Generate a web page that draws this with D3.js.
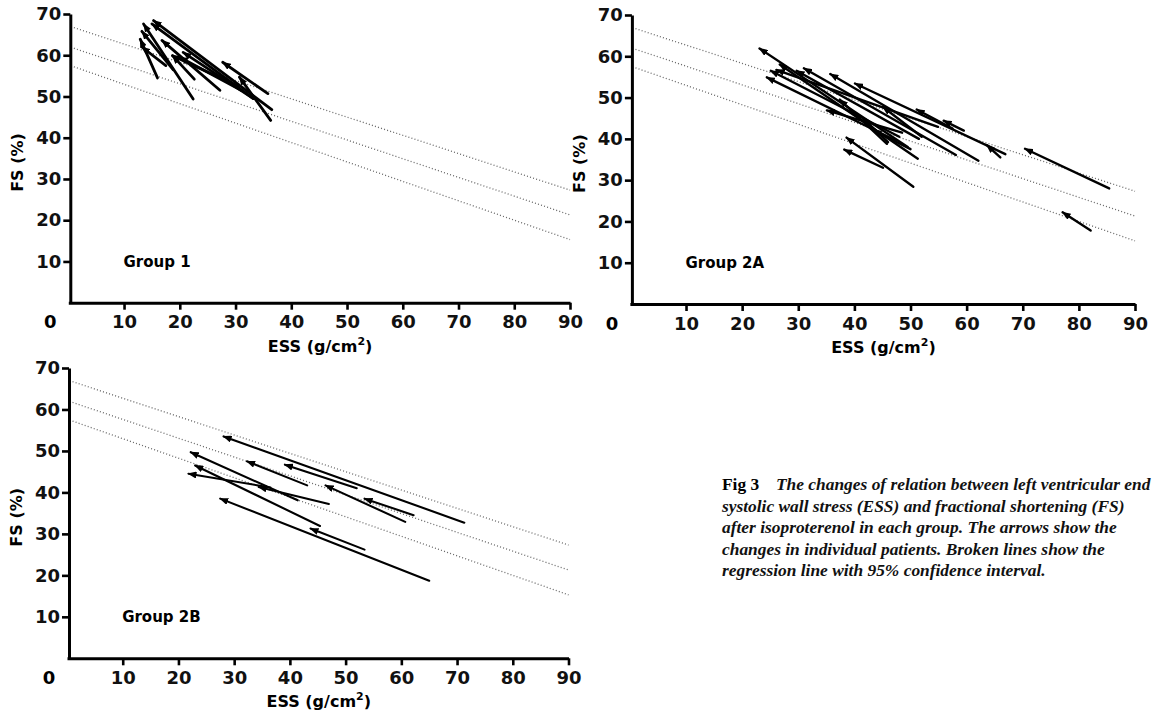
<!DOCTYPE html>
<html>
<head>
<meta charset="utf-8">
<script src="https://cdn.jsdelivr.net/npm/d3@7"></script>
<style>
  body { margin: 0; background: #fff; }
  svg { display: block; }
  .tick text { font-family: "DejaVu Sans", sans-serif; font-weight: 700; font-size: 18px; fill: #111; }
</style>
</head>
<body>
<div id="chart"></div>
<script>
// Valeurs : [ESS avant, FS avant, ESS après, FS après]
const group1 = [
  [36.5, 46.8, 15.3, 68.4],
  [33.2, 49.5, 15.0, 67.6],
  [33.2, 49.5, 20.6, 60.7],
  [30.5, 52.5, 18.7, 59.9],
  [22.4, 49.4, 13.5, 67.6],
  [18.8, 56.5, 13.2, 65.8],
  [16.0, 54.5, 12.9, 63.9],
  [17.5, 57.5, 13.2, 62.0],
  [27.2, 51.5, 16.8, 63.6],
  [22.6, 54.2, 18.7, 59.9],
  [35.8, 50.7, 27.7, 58.3],
  [36.3, 44.2, 30.7, 54.7],
  [31.0, 51.5, 20.0, 59.5]
];

const group2A = [
  [49.5, 38.0, 23.1, 61.9],
  [66.9, 36.3, 40.1, 53.4],
  [66.0, 35.5, 63.6, 38.5],
  [57.5, 42.5, 51.1, 47.1],
  [59.5, 42.0, 55.9, 44.4],
  [62.1, 34.7, 35.7, 55.7],
  [58.1, 36.1, 31.0, 57.1],
  [51.3, 35.2, 26.7, 58.0],
  [48.0, 40.5, 25.1, 56.5],
  [47.4, 39.6, 24.4, 54.9],
  [51.5, 40.0, 29.7, 56.5],
  [54.9, 42.9, 26.1, 56.7],
  [50.5, 28.4, 38.6, 40.3],
  [45.1, 33.0, 38.2, 37.4],
  [85.4, 28.0, 70.4, 37.6],
  [82.1, 17.8, 77.1, 22.2],
  [48.5, 41.5, 35.1, 46.9],
  [46.0, 39.2, 41.6, 44.9],
  [50.0, 37.5, 43.4, 42.1],
  [52.0, 40.5, 45.1, 47.7],
  [45.8, 38.8, 37.4, 49.5]
];

const group2B = [
  [65.0, 18.7, 27.5, 38.5],
  [53.4, 26.2, 43.7, 31.3],
  [45.4, 31.9, 23.0, 46.5],
  [41.4, 38.1, 22.2, 49.7],
  [47.0, 37.2, 34.4, 41.3],
  [36.5, 41.2, 21.8, 44.5],
  [71.3, 32.7, 28.1, 53.5],
  [43.1, 41.7, 32.3, 47.5],
  [60.7, 32.9, 46.4, 41.7],
  [62.2, 34.5, 53.4, 38.5],
  [52.0, 41.0, 39.1, 46.7]
];

// Droite de régression et intervalle de confiance à 95 %
const regUpper = [[1.0, 66.7], [90, 27.3]];
const regMiddle = [[1.0, 61.7], [90, 21.3]];
const regLower = [[1.0, 57.2], [90, 15.3]];

const ticksX = [10, 20, 30, 40, 50, 60, 70, 80, 90];
const ticksY = [10, 20, 30, 40, 50, 60, 70];

const captionLines = [
  "The changes of relation between left ventricular end",
  "systolic wall stress (ESS) and fractional shortening (FS)",
  "after isoproterenol in each group. The arrows show the",
  "changes in individual patients. Broken lines show the",
  "regression line with 95% confidence interval."
];

// Position de chaque panneau sur la page
const panels = [
  { label: "Group 1", arrows: group1, x0: 68.3, x90: 570, y0: 302.7, y70: 14, lw: 2.8 },
  { label: "Group 2A", arrows: group2A, x0: 629.9, x90: 1135, y0: 304, y70: 15, lw: 2.4 },
  { label: "Group 2B", arrows: group2B, x0: 67, x90: 568.5, y0: 658.3, y70: 368, lw: 2.1 }
];

const svg = d3.select("#chart").append("svg")
  .attr("width", 1155)
  .attr("height", 717);

svg.append("defs").append("marker")
  .attr("id", "head")
  .attr("markerUnits", "userSpaceOnUse")
  .attr("viewBox", "0 0 9 7")
  .attr("markerWidth", 9)
  .attr("markerHeight", 7)
  .attr("refX", 8)
  .attr("refY", 3.5)
  .attr("orient", "auto")
  .append("path")
  .attr("d", "M0,0 L9,3.5 L0,7 Z")
  .attr("fill", "#000");

panels.forEach((p) => {
  const x = d3.scaleLinear().domain([0, 90]).range([p.x0, p.x90]);
  const y = d3.scaleLinear().domain([0, 70]).range([p.y0, p.y70]);
  const g = svg.append("g");

  // Lignes pointillées
  const line = d3.line().x((d) => x(d[0])).y((d) => y(d[1]));
  [regUpper, regMiddle, regLower].forEach((r) => {
    g.append("path")
      .attr("d", line(r))
      .attr("fill", "none")
      .attr("stroke", "#666")
      .attr("stroke-width", 1.3)
      .attr("stroke-dasharray", "1,2.2");
  });

  // Flèches des patients
  g.selectAll(".arrow")
    .data(p.arrows)
    .enter()
    .append("line")
    .attr("class", "arrow")
    .attr("x1", (d) => x(d[0]))
    .attr("y1", (d) => y(d[1]))
    .attr("x2", (d) => x(d[2]))
    .attr("y2", (d) => y(d[3]))
    .attr("stroke", "#000")
    .attr("stroke-width", p.lw)
    .attr("stroke-linecap", "round")
    .attr("marker-end", "url(#head)");

  // Axe Y
  const yAxis = g.append("g")
    .attr("transform", "translate(" + (x(0) + 2) + ",0)")
    .call(d3.axisLeft(y).tickValues(ticksY).tickSize(7).tickSizeOuter(0).tickPadding(2));

  // Axe X
  const xAxis = g.append("g")
    .attr("transform", "translate(0," + y(0) + ")")
    .call(d3.axisBottom(x).tickValues(ticksX).tickSize(7).tickSizeOuter(0).tickPadding(6));

  [yAxis, xAxis].forEach((a) => {
    a.select(".domain").attr("stroke", "#000").attr("stroke-width", 3);
    a.selectAll(".tick line").attr("stroke", "#000").attr("stroke-width", 2.6);
  });

  g.append("text")
    .attr("x", x(0) - 18)
    .attr("y", y(0) + 13)
    .attr("dy", "0.71em")
    .attr("text-anchor", "middle")
    .style("font-family", "'DejaVu Sans', sans-serif")
    .style("font-weight", 700)
    .style("font-size", "18px")
    .text("0");

  // Titres des axes
  g.append("text")
    .attr("x", x(45) + 1)
    .attr("y", y(0) + 49)
    .attr("text-anchor", "middle")
    .style("font-family", "'DejaVu Sans', sans-serif")
    .style("font-weight", 700)
    .style("font-size", "16px")
    .html("ESS (g/cm<tspan dy='-7' font-size='11px'>2</tspan><tspan dy='7'>)</tspan>");

  g.append("text")
    .attr("transform", "translate(" + (x(0) - 45) + "," + y(34) + ") rotate(-90)")
    .attr("text-anchor", "middle")
    .style("font-family", "'DejaVu Sans', sans-serif")
    .style("font-weight", 700)
    .style("font-size", "16px")
    .text("FS (%)");

  g.append("text")
    .attr("x", x(9.9))
    .attr("y", y(10))
    .attr("dy", "0.35em")
    .style("font-family", "'DejaVu Sans', sans-serif")
    .style("font-weight", 700)
    .style("font-size", "15px")
    .text(p.label);
});

// Légende de la figure
const cap = svg.append("text")
  .style("font-family", "'Liberation Serif', 'DejaVu Serif', serif")
  .style("font-size", "17.4px")
  .style("fill", "#111");

captionLines.forEach((t, i) => {
  cap.append("tspan")
    .attr("x", i === 0 ? 776 : 722)
    .attr("y", 490 + i * 21.5)
    .style("font-style", "italic")
    .style("font-weight", 700)
    .text(t);
});
svg.append("text")
  .attr("x", 722)
  .attr("y", 490)
  .style("font-family", "'Liberation Serif', 'DejaVu Serif', serif")
  .style("font-size", "17.4px")
  .style("font-weight", 700)
  .text("Fig 3");
</script>
</body>
</html>
